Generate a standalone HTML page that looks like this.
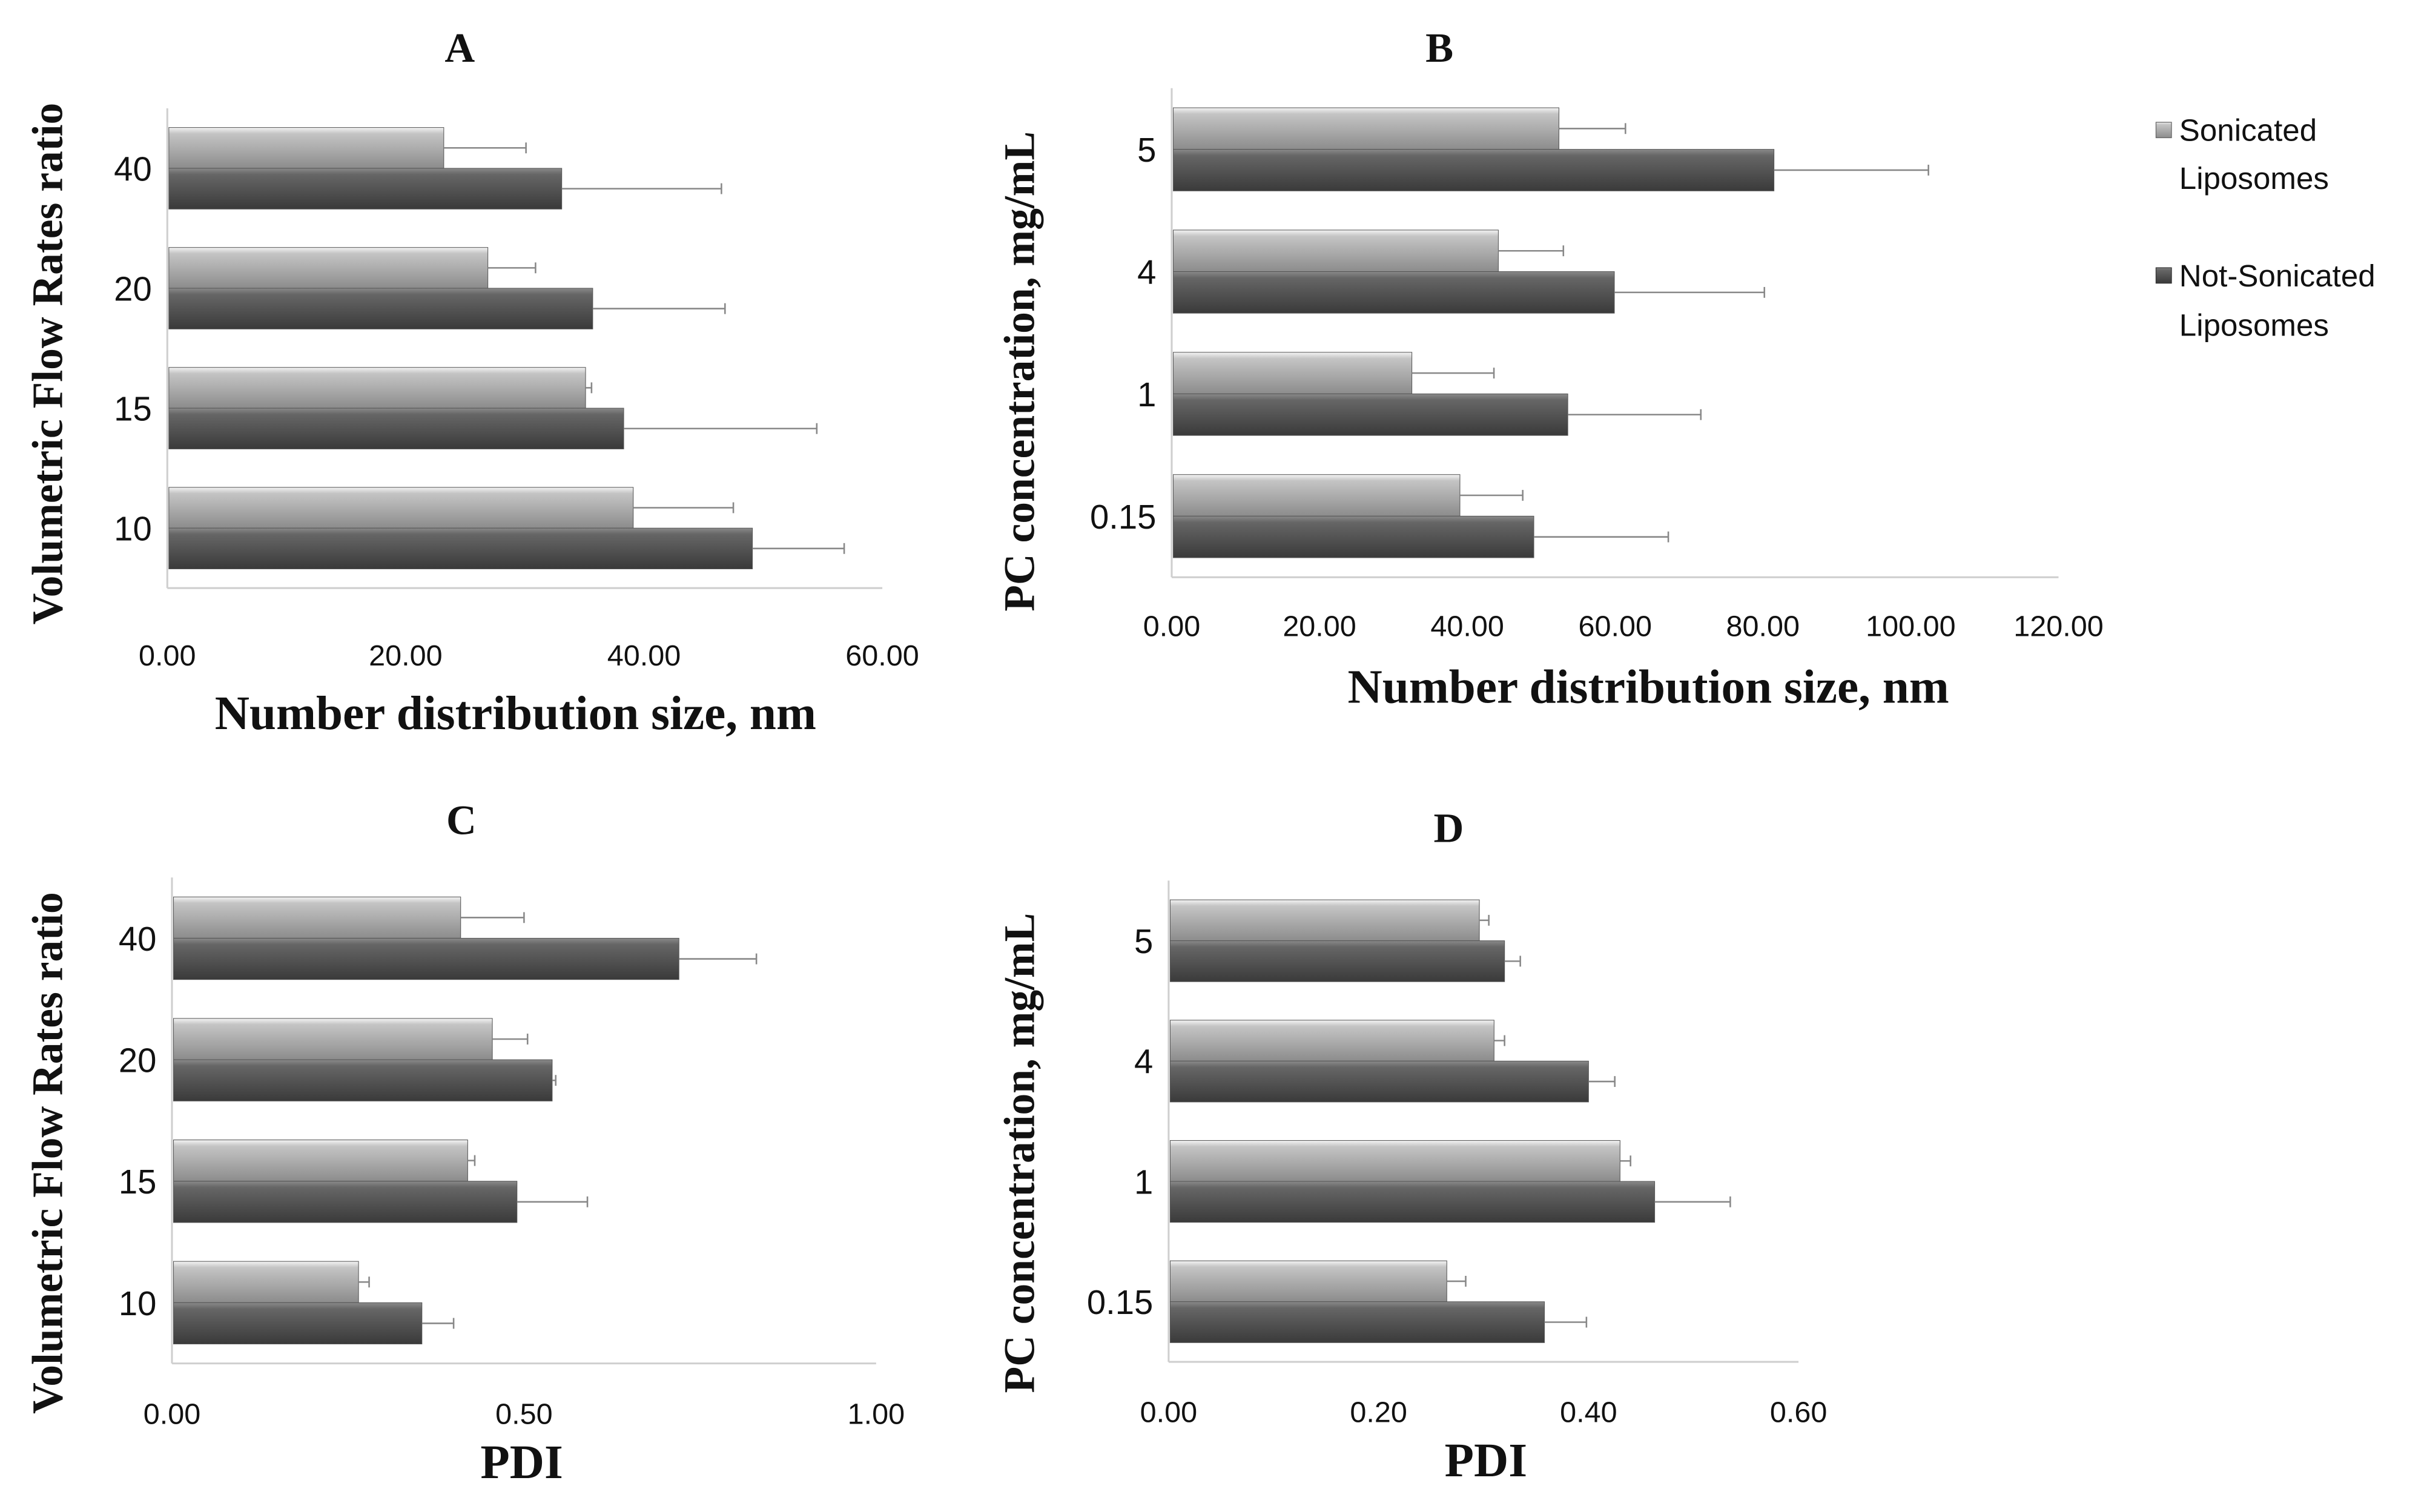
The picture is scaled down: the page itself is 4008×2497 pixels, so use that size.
<!DOCTYPE html>
<html><head><meta charset="utf-8"><style>
html,body{margin:0;padding:0;background:#fff;}
svg{display:block;}
.tick{font-family:"Liberation Sans",sans-serif;font-size:19px;fill:#111;}
.cat{font-family:"Liberation Sans",sans-serif;font-size:22px;fill:#111;}
.ttl{font-family:"Liberation Serif",serif;font-weight:bold;fill:#111;}
</style></head><body>
<svg id="fig" width="4008" height="2497" viewBox="0 0 1568 977" xmlns="http://www.w3.org/2000/svg">
<defs>
<linearGradient id="gl" x1="0" y1="0" x2="0" y2="1"><stop offset="0" stop-color="#f4f4f4"/><stop offset="0.15" stop-color="#c4c4c4"/><stop offset="1" stop-color="#8c8c8c"/></linearGradient>
<linearGradient id="gd" x1="0" y1="0" x2="0" y2="1"><stop offset="0" stop-color="#8a8a8a"/><stop offset="0.15" stop-color="#666"/><stop offset="1" stop-color="#3a3a3a"/></linearGradient>
</defs>
<g id="legend">
<rect x="1393" y="79" width="10" height="10" fill="url(#gl)" stroke="#666" stroke-width="0.5"/>
<text x="1408" y="91" class="tick" style="font-size:20px">Sonicated</text>
<text x="1408" y="122" class="tick" style="font-size:20px">Liposomes</text>
<rect x="1393" y="173" width="10" height="10" fill="url(#gd)" stroke="#333" stroke-width="0.5"/>
<text x="1408" y="185" class="tick" style="font-size:20px">Not-Sonicated</text>
<text x="1408" y="217" class="tick" style="font-size:20px">Liposomes</text>
</g>
</svg>
<script>
const catsA = ["40","20","15","10"];
const sonA = [23.2, 26.9, 35.1, 39.1];
const sonErrA = [6.9, 4.0, 0.5, 8.4];
const notA = [33.1, 35.7, 38.3, 49.1];
const notErrA = [13.4, 11.1, 16.2, 7.7];
const ticksA = ["0.00","20.00","40.00","60.00"];

const catsB = ["5","4","1","0.15"];
const sonB = [52.4, 44.2, 32.5, 39.0];
const sonErrB = [9.0, 8.8, 11.1, 8.5];
const notB = [81.5, 59.9, 53.6, 49.0];
const notErrB = [20.9, 20.3, 18.0, 18.2];
const ticksB = ["0.00","20.00","40.00","60.00","80.00","100.00","120.00"];

const catsC = ["40","20","15","10"];
const sonC = [0.41, 0.455, 0.42, 0.265];
const sonErrC = [0.09, 0.05, 0.01, 0.015];
const notC = [0.72, 0.54, 0.49, 0.355];
const notErrC = [0.11, 0.005, 0.10, 0.045];
const ticksC = ["0.00","0.50","1.00"];

const catsD = ["5","4","1","0.15"];
const sonD = [0.296, 0.31, 0.43, 0.265];
const sonErrD = [0.009, 0.01, 0.01, 0.018];
const notD = [0.32, 0.40, 0.463, 0.358];
const notErrD = [0.015, 0.025, 0.072, 0.04];
const ticksD = ["0.00","0.20","0.40","0.60"];

const NS = "http://www.w3.org/2000/svg";
const svg = document.getElementById("fig");
function mk(tag, attrs, parent){const e=document.createElementNS(NS,tag);for(const k in attrs)e.setAttribute(k,attrs[k]);(parent||svg).appendChild(e);return e;}

function panel(id, cfg){
  const g = mk("g",{});
  
  
  const xs = v => cfg.x0 + (v - 0)/(cfg.max)*(cfg.x1 - cfg.x0);
  const band = (cfg.y1 - cfg.y0)/cfg.cats.length;
  const ya = mk("line",{x1:cfg.x0,y1:cfg.y0,x2:cfg.x0,y2:cfg.y1,stroke:"#cfcfcf","stroke-width":1.2},g);
  
  
  const xa = mk("line",{x1:cfg.x0,y1:cfg.y1,x2:cfg.x1,y2:cfg.y1,stroke:"#cfcfcf","stroke-width":1.2},g);
  
  
  const n = cfg.ticks.length-1;
  cfg.ticks.forEach((t,i)=>{
    const tx = mk("text",{x:xs(cfg.max*i/n),y:cfg.tickY,"text-anchor":"middle",class:"tick"},g);
    tx.textContent = t;
    
    
  });
  cfg.cats.forEach((c,i)=>{
    const cy = cfg.y0 + band*(i+0.5);
    const bh = band*0.34;
    const lab = mk("text",{x:cfg.x0-10,y:cy+8,"text-anchor":"end",class:"cat"},g);
    lab.textContent = c;
    
    
    [[cfg.son[i],cfg.sonErr[i],"url(#gl)",cy-bh,"bar-sonicated"],[cfg.not[i],cfg.notErr[i],"url(#gd)",cy,"bar-not-sonicated"]].forEach(s=>{
      const r = mk("rect",{x:cfg.x0+1,y:s[3],width:xs(s[0])-cfg.x0-1,height:bh,fill:s[2],stroke:"#555","stroke-width":0.4},g);
      
      
      const ey = s[3]+bh/2;
      const el = mk("line",{x1:xs(s[0]),y1:ey,x2:xs(s[0]+s[1]),y2:ey,stroke:"#888","stroke-width":1},g);
      
      
      const ec = mk("line",{x1:xs(s[0]+s[1]),y1:ey-3.5,x2:xs(s[0]+s[1]),y2:ey+3.5,stroke:"#888","stroke-width":1},g);
      
      
    });
  });
  const tt = mk("text",{x:cfg.titleX,y:cfg.titleY,"text-anchor":"middle",class:"ttl","font-size":27},g);
  tt.textContent = id;
  
  
  const xt = mk("text",{x:cfg.xtX,y:cfg.xtY,"text-anchor":"middle",class:"ttl","font-size":31},g);
  xt.textContent = cfg.xt;
  
  
  const yt = mk("text",{x:0,y:0,"text-anchor":"middle",class:"ttl","font-size":28,transform:`translate(${cfg.ytX},${cfg.ytY}) rotate(-90)`},g);
  yt.textContent = cfg.yt;
  
  
}
panel("A",{cats:catsA,son:sonA,sonErr:sonErrA,not:notA,notErr:notErrA,ticks:ticksA,max:60,x0:108,x1:570,y0:70,y1:380,tickY:430,titleX:297,titleY:40,xt:"Number distribution size, nm",xtX:333,xtY:471,yt:"Volumetric Flow Rates ratio",ytX:40,ytY:235});
panel("B",{cats:catsB,son:sonB,sonErr:sonErrB,not:notB,notErr:notErrB,ticks:ticksB,max:120,x0:757,x1:1330,y0:57,y1:373,tickY:411,titleX:930,titleY:40,xt:"Number distribution size, nm",xtX:1065,xtY:454,yt:"PC concentration, mg/mL",ytX:668,ytY:240});
panel("C",{cats:catsC,son:sonC,sonErr:sonErrC,not:notC,notErr:notErrC,ticks:ticksC,max:1,x0:111,x1:566,y0:567,y1:881,tickY:920,titleX:298,titleY:539,xt:"PDI",xtX:337,xtY:955,yt:"Volumetric Flow Rates ratio",ytX:40,ytY:745});
panel("D",{cats:catsD,son:sonD,sonErr:sonErrD,not:notD,notErr:notErrD,ticks:ticksD,max:0.6,x0:755,x1:1162,y0:569,y1:880,tickY:919,titleX:936,titleY:544,xt:"PDI",xtX:960,xtY:954,yt:"PC concentration, mg/mL",ytX:668,ytY:745});
</script>
</body></html>
